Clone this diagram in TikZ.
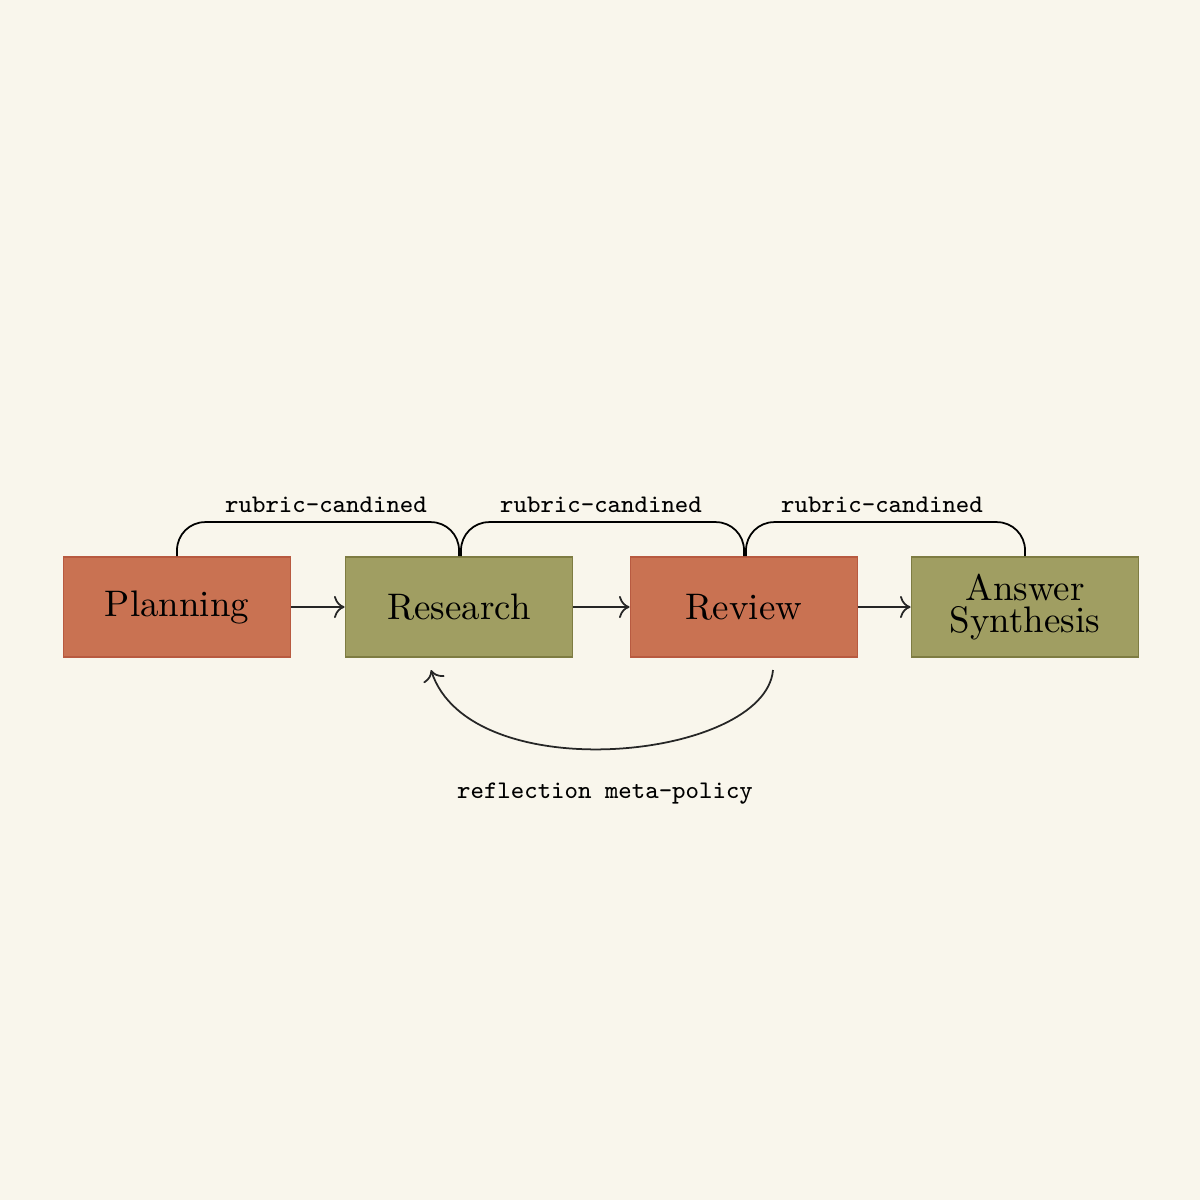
\documentclass[tikz,border=0pt]{standalone}
\usetikzlibrary{arrows.meta}
\definecolor{bg}{HTML}{F9F6EC}
\definecolor{orng}{HTML}{C97252}
\definecolor{orngd}{HTML}{B85A40}
\definecolor{olv}{HTML}{A09E62}
\definecolor{olvd}{HTML}{7E7C42}
\begin{document}
\begin{tikzpicture}[x=0.01cm,y=-0.01cm,
  box/.style={minimum width=2.27cm,minimum height=1.0cm,inner sep=0pt,align=center,font=\fontsize{10.5}{11}\selectfont,line width=0.5pt},
  obox/.style={box,fill=orng,draw=orngd},
  gbox/.style={box,fill=olv,draw=olvd},
  lbl/.style={font=\ttfamily\fontsize{7.2}{8}\selectfont},
  arr/.style={-{To[length=3pt]},line width=0.5pt,draw=black!85}]
\fill[bg] (0,0) rectangle (1200,1200);
\useasboundingbox (0,0) rectangle (1200,1200);
\node[obox] (p) at (177,607) {Planning};
\node[gbox] (r) at (459,607) {Research};
\node[obox] (v) at (744,607) {Review};
\node[gbox] (a) at (1025,607) {Answer\\[-2pt]Synthesis};
\draw[arr] (p) -- (r);
\draw[arr] (r) -- (v);
\draw[arr] (v) -- (a);
\draw[line width=0.5pt,rounded corners=8] (p.north) -- ++(0,-34) -| (r.north);
\draw[line width=0.5pt,rounded corners=8] (r.north) ++(2,0) -- ++(0,-34) -| (v.north);
\draw[line width=0.5pt,rounded corners=8] (v.north) ++(2,0) -- ++(0,-34) -| (a.north);
\node[lbl] (l1) at (326,505) {rubric-candined};
\node[lbl] (l2) at (601,505) {rubric-candined};
\node[lbl] (l3) at (882,505) {rubric-candined};
\coordinate (s) at (773,670);
\coordinate (e) at (431,670);
\draw[arr] (s) .. controls (765,760) and (470,790) .. (e);
\node[lbl] (rm) at (605,794) {reflection meta-policy};
\end{tikzpicture}
\end{document}
